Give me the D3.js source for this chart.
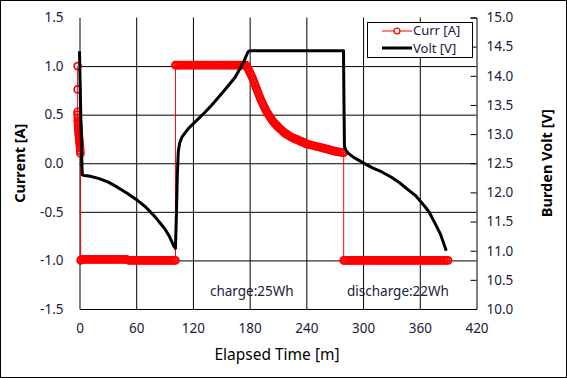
<!DOCTYPE html>
<html><head><meta charset="utf-8">
<script src="https://cdn.jsdelivr.net/npm/d3@7"></script>
<style>body{margin:0;background:#fff}svg{display:block}text{font-family:"Noto Sans","Open Sans",sans-serif}</style>
</head><body><svg id="c" width="567" height="378"></svg>
<script>
const xTicks=[0,60,120,180,240,300,360,420];
const yLeftTicks=[-1.5,-1,-0.5,0,0.5,1,1.5];
const yRightTicks=[10,10.5,11,11.5,12,12.5,13,13.5,14,14.5,15];
const seriesNames=["Curr [A]","Volt [V]"];
const notes=[{t:138,text:"charge:25Wh"},{t:283,text:"discharge:22Wh"}];

// Current series (minutes, amps)
const currTime=[-2,-2,-2,-2,-1.8,-1.8,-1.6,-1.5,-1.4,-1.2,-1,-0.9,-0.8,-0.6,-0.4,-0.2,0,0.2,0.4,0.6,0.8,1.0,
1.2,2,4,6,8,10,12,14,16,18,20,22,24,26,28,30,32,34,36,38,40,42,44,46,48,50,52,54,56,58,60,62,64,66,68,70,72,74,76,78,80,82,84,86,88,90,92,94,96,98,100,101.5,
101.5,102,104,106,108,110,112,114,116,118,120,122,124,126,128,130,132,134,136,138,140,142,144,146,148,150,152,154,156,158,160,162,164,166,168,170,172,174,176,
177,178,179,180,181,182,183,184,185,186,187,188,189,190,191,192,193,194,195,196,197,198,199,200,201,202,203,204,205,206,207,208,209,210,211,212,213,214,215,216,217,218,219,220,221,222,223,224,225,226,227,228,229,230,231,232,233,234,235,236,237,238,239,240,
242,244,246,248,250,252,254,256,258,260,262,264,266,268,270,272,274,276,278,279.5,
279.5,280,282,284,286,288,290,292,294,296,298,300,302,304,306,308,310,312,314,316,318,320,322,324,326,328,330,332,334,336,338,340,342,344,346,348,350,352,354,356,358,360,362,364,366,368,370,372,374,376,378,380,382,384,386,388,390];
const currVal=[1.0,0.76,0.53,0.5,0.47,0.44,0.42,0.4,0.38,0.36,0.34,0.32,0.3,0.28,0.26,0.24,0.22,0.2,0.18,0.16,0.13,0.1,
-1,-0.99,-0.99,-0.99,-0.99,-0.99,-0.99,-0.99,-0.99,-0.99,-0.99,-0.99,-0.99,-0.99,-0.99,-0.99,-0.99,-0.99,-0.99,-0.99,-0.99,-0.99,-0.99,-0.99,-0.99,-0.99,-1,-1,-1,-1,-1,-1,-1,-1,-1,-1,-1,-1,-1,-1,-1,-1,-1,-1,-1,-1,-1,-1,-1,-1,-1,-1,
1.01,1.01,1.01,1.01,1.01,1.01,1.01,1.01,1.01,1.01,1.01,1.01,1.01,1.01,1.01,1.01,1.01,1.01,1.01,1.01,1.01,1.01,1.01,1.01,1.01,1.01,1.01,1.01,1.01,1.01,1.01,1.01,1.01,1.01,1.01,1.01,1.01,1.01,1.01,
1.0,0.98,0.96,0.94,0.92,0.9,0.877,0.855,0.828,0.8,0.775,0.75,0.725,0.7,0.675,0.65,0.63,0.61,0.59,0.57,0.55,0.53,0.515,0.5,0.485,0.47,0.455,0.44,0.428,0.415,0.405,0.395,0.385,0.375,0.365,0.355,0.347,0.34,0.33,0.32,0.312,0.305,0.3,0.295,0.288,0.28,0.275,0.27,0.265,0.26,0.255,0.25,0.247,0.245,0.24,0.235,0.23,0.225,0.222,0.22,0.215,0.21,0.205,0.2,
0.195,0.19,0.185,0.18,0.175,0.17,0.165,0.16,0.155,0.15,0.145,0.14,0.135,0.13,0.125,0.12,0.118,0.115,0.11,0.11,
-1,-1,-1,-1,-1,-1,-1,-1,-1,-1,-1,-1,-1,-1,-1,-1,-1,-1,-1,-1,-1,-1,-1,-1,-1,-1,-1,-1,-1,-1,-1,-1,-1,-1,-1,-1,-1,-1,-1,-1,-1,-1,-1,-1,-1,-1,-1,-1,-1,-1,-1,-1,-1,-1,-1,-1,-1];

// Voltage series (minutes, volts)
const voltTime=[0,0.5,1,1.5,2,2.5,3,5,10,20,30,40,50,60,70,80,90,95,100,101.5,102.5,103.5,104.5,106,108.4,112,115.5,120,133,140,150.7,160,164.8,170,173.7,176,178.3,180,279.3,279.8,280.3,282,284.5,290,302.2,310,319.9,330,337.5,345,355.2,360,365.8,370,376.4,382,388];
const voltVal=[14.42,14.0,13.6,13.2,12.9,12.5,12.3,12.29,12.28,12.24,12.18,12.09,11.99,11.88,11.75,11.58,11.38,11.25,11.07,11.04,11.6,12.3,12.7,12.85,12.95,13.03,13.1,13.17,13.38,13.5,13.7,13.88,13.98,14.13,14.24,14.33,14.41,14.43,14.43,13.5,12.78,12.72,12.67,12.6,12.49,12.42,12.35,12.26,12.18,12.08,11.95,11.86,11.75,11.66,11.46,11.28,11.0];

const svg=d3.select("#c");
const L=79.5,R=476.5,T=17.5,B=309;
const x=d3.scaleLinear().domain([0,420]).range([L,R]);
const yL=d3.scaleLinear().domain([-1.5,1.5]).range([B,T]);
const yR=d3.scaleLinear().domain([10,15]).range([B,T]);
const txt="#20203a";

svg.append("rect").attr("x",0.5).attr("y",0.5).attr("width",566).attr("height",377).attr("fill","#fff").attr("stroke","#000");

// annotations (under grid)
svg.selectAll("text.note").data(notes).join("text").attr("class","note")
 .attr("x",d=>x(d.t)).attr("y",296).attr("font-size",13.5).attr("fill",txt).text(d=>d.text);

// grid
svg.append("g").attr("transform",`translate(0,${B})`)
 .call(d3.axisBottom(x).tickValues(xTicks.slice(1,-1)).tickSize(-(B-T)).tickFormat(""))
 .call(g=>g.select(".domain").remove()).selectAll("line").attr("stroke","#000");
svg.append("g").attr("transform",`translate(${L},0)`)
 .call(d3.axisLeft(yL).tickValues(yLeftTicks.slice(1,-1)).tickSize(-(R-L)).tickFormat(""))
 .call(g=>g.select(".domain").remove()).selectAll("line").attr("stroke","#000");

// axes
const fmt=d=>d.toFixed(1);
const ax=svg.append("g").attr("transform",`translate(0,${B})`)
 .call(d3.axisBottom(x).tickValues(xTicks).tickSize(0).tickPadding(14).tickFormat(d=>d));
ax.select(".domain").attr("stroke","#000");
ax.selectAll("text").attr("font-size",13.5).attr("fill",txt).style("font-family","'Noto Sans',sans-serif");
const ay=svg.append("g").attr("transform",`translate(${L},0)`)
 .call(d3.axisLeft(yL).tickValues(yLeftTicks).tickSize(0).tickPadding(16).tickFormat(fmt));
ay.select(".domain").attr("stroke","#000");
ay.selectAll("text").attr("font-size",13.5).attr("fill",txt).style("font-family","'Noto Sans',sans-serif");
const ar=svg.append("g").attr("transform",`translate(${R},0)`)
 .call(d3.axisRight(yR).tickValues(yRightTicks).tickSize(-6).tickPadding(10).tickFormat(fmt));
ar.select(".domain").attr("stroke","#000");
ar.selectAll("line").attr("stroke","#000");
ar.selectAll("text").attr("font-size",13.5).attr("fill",txt).style("font-family","'Noto Sans',sans-serif");

// axis titles
svg.append("text").attr("x",(L+R)/2-1).attr("y",360).attr("text-anchor","middle").attr("font-size",15.5).attr("fill","#000").text("Elapsed Time [m]");
svg.append("text").attr("transform",`translate(25,${(T+B)/2}) rotate(-90)`).attr("text-anchor","middle").attr("font-size",14.5).attr("font-weight","bold").attr("fill","#000").text("Current [A]");
svg.append("text").attr("transform",`translate(552,${(T+B)/2}) rotate(-90)`).attr("text-anchor","middle").attr("font-size",14.5).attr("font-weight","bold").attr("fill","#000").text("Burden Volt [V]");

// current series
const curr=currTime.map((t,i)=>({t,v:currVal[i]}));
svg.append("path").datum(curr).attr("fill","none").attr("stroke","#ff0000").attr("stroke-width",1)
 .attr("d",d3.line().x(d=>x(d.t)).y(d=>yL(d.v)));
svg.append("g").selectAll("circle").data(curr).join("circle")
 .attr("cx",d=>x(d.t)).attr("cy",d=>yL(d.v)).attr("r",3.5).attr("fill","none").attr("stroke","#ff0000").attr("stroke-width",1.7);

// voltage series
const volt=voltTime.map((t,i)=>({t,v:voltVal[i]}));
svg.append("path").datum(volt).attr("fill","none").attr("stroke","#000").attr("stroke-width",3).attr("stroke-linejoin","round")
 .attr("d",d3.line().x(d=>x(d.t)).y(d=>yR(d.v)));

// legend
const lg=svg.append("g");
lg.append("rect").attr("x",367.5).attr("y",22.5).attr("width",105).attr("height",35).attr("fill","#fff").attr("stroke","#000");
lg.append("line").attr("x1",382).attr("x2",412).attr("y1",31).attr("y2",31).attr("stroke","#ff0000").attr("stroke-width",1);
lg.append("circle").attr("cx",397).attr("cy",31).attr("r",2.9).attr("fill","#fff").attr("stroke","#ff0000").attr("stroke-width",1.3);
lg.append("line").attr("x1",382).attr("x2",412).attr("y1",48).attr("y2",48).attr("stroke","#000").attr("stroke-width",3);
lg.selectAll("text.lg").data(seriesNames).join("text").attr("class","lg")
 .attr("x",413).attr("y",(d,i)=>30.5+i*17.5).attr("dy","0.35em").attr("font-size",13).attr("fill",txt).text(d=>d);
</script></body></html>
